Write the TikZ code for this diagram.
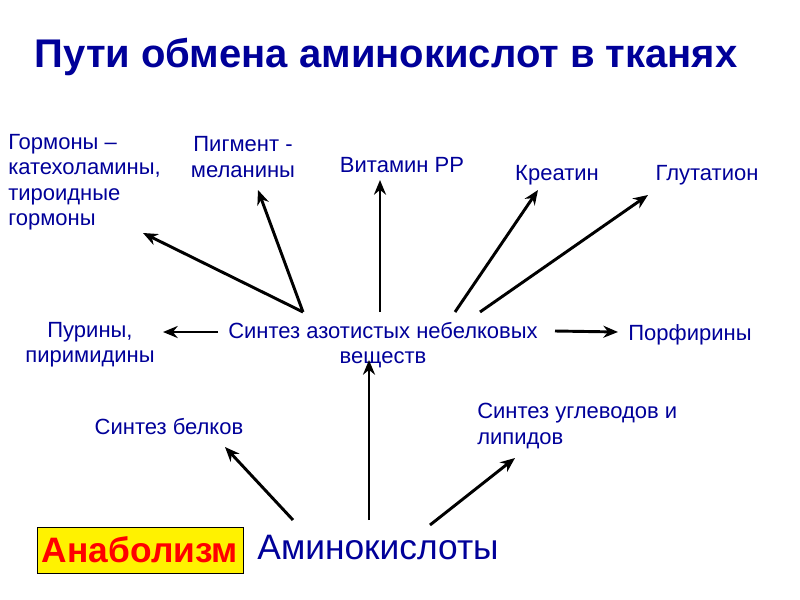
\documentclass[tikz,border=0pt]{standalone}
\usepackage{fontspec}
\setmainfont{Liberation Sans}
\usetikzlibrary{arrows.meta}
\definecolor{db}{RGB}{0,0,153}
\begin{document}
\begin{tikzpicture}[x=0.75pt,y=-0.75pt,
  lbl/.style={text=db,font=\fontsize{16.5}{19}\selectfont,align=center,inner sep=0},
  arr/.style={-{Stealth[length=11pt,width=9pt]},line width=2.2pt}]
\useasboundingbox (0,0) rectangle (800,600);
\node[text=db,font=\fontsize{30}{34}\selectfont\bfseries] (title) at (386,57) {Пути обмена аминокислот в тканях};
\node[lbl,align=left,anchor=north west] (horm) at (8,134) {Гормоны –\\катехоламины,\\тироидные\\гормоны};
\node[lbl] (pigm) at (243,157) {Пигмент -\\меланины};
\node[lbl] (vit) at (402,165) {Витамин РР};
\node[lbl] (kre) at (557,175) {Креатин};
\node[lbl] (glu) at (707,175) {Глутатион};
\node[lbl] (pur) at (90,345) {Пурины,\\пиримидины};
\node[lbl] (syn) at (383,345) {Синтез азотистых небелковых\\веществ};
\node[lbl] (por) at (690,335) {Порфирины};
\node[lbl] (bel) at (169,427) {Синтез белков};
\node[lbl,align=left,anchor=west] (ugl) at (477,426) {Синтез углеводов и\\липидов};
\node[draw=black,fill=yellow,text=red,font=\fontsize{26.5}{30}\selectfont\bfseries,minimum width=206*0.75pt,minimum height=46*0.75pt,inner sep=0] (ana) at (140,550) {Анаболизм};
\node[text=db,font=\fontsize{26.5}{30}\selectfont] (amk) at (378,548) {Аминокислоты};
\coordinate (a1) at (303,312); \coordinate (b1) at (143,233);
\coordinate (b2) at (258,190);
\coordinate (a3) at (380,312); \coordinate (b3) at (380,180);
\coordinate (a4) at (455,312); \coordinate (b4) at (538,190);
\coordinate (a5) at (480,312); \coordinate (b5) at (648,195);
\coordinate (a6) at (218,332); \coordinate (b6) at (163,332);
\coordinate (a7) at (555,331); \coordinate (b7) at (618,332);
\coordinate (a8) at (369,520); \coordinate (b8) at (369,360);
\coordinate (a9) at (293,520); \coordinate (b9) at (225,447);
\coordinate (a10) at (430,525); \coordinate (b10) at (515,458);
\draw[arr] (a1)--(b1); \draw[arr] (a1)--(b2); \draw[arr] (a3)--(b3);
\draw[arr] (a4)--(b4); \draw[arr] (a5)--(b5); \draw[arr] (a6)--(b6);
\draw[arr] (a7)--(b7); \draw[arr] (a8)--(b8); \draw[arr] (a9)--(b9);
\draw[arr] (a10)--(b10);
\end{tikzpicture}
\end{document}
